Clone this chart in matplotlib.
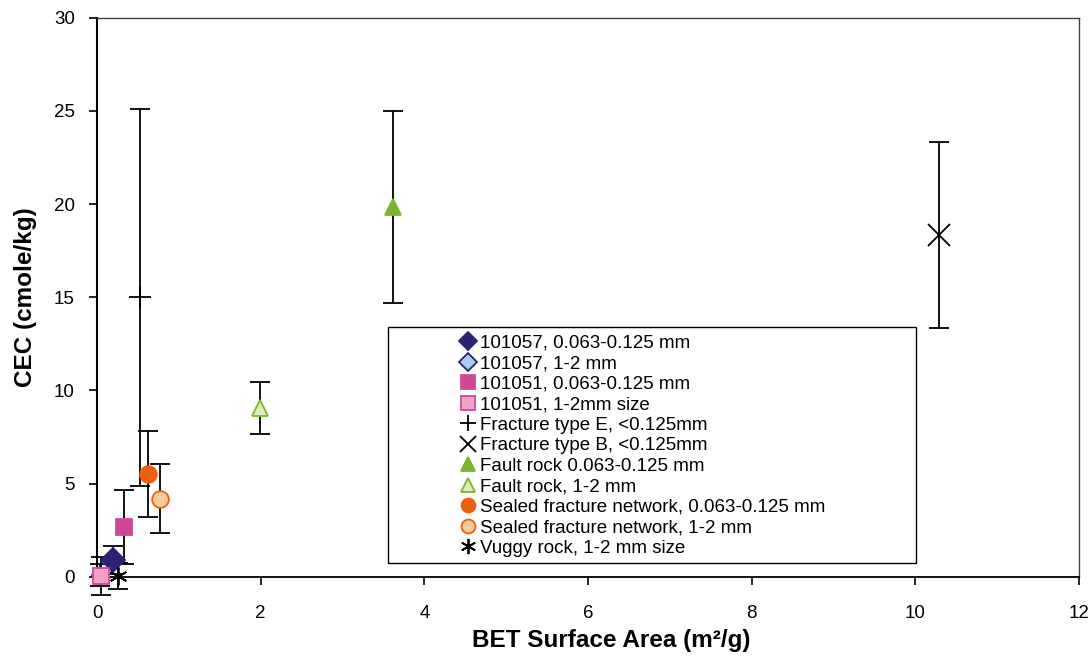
import matplotlib.pyplot as plt
from matplotlib.patches import Rectangle

plt.rcParams['font.family'] = ['Liberation Sans', 'DejaVu Sans']

# series: label, x, y, error
labels = [
    "101057, 0.063-0.125 mm",
    "101057, 1-2 mm",
    "101051, 0.063-0.125 mm",
    "101051, 1-2mm size",
    "Fracture type E, <0.125mm",
    "Fracture type B, <0.125mm",
    "Fault rock 0.063-0.125 mm",
    "Fault rock, 1-2 mm",
    "Sealed fracture network, 0.063-0.125 mm",
    "Sealed fracture network, 1-2 mm",
    "Vuggy rock, 1-2 mm size",
]
bet = [0.2, 0.04, 0.33, 0.05, 0.53, 10.29, 3.62, 1.99, 0.62, 0.77, 0.26]
cec = [0.9, 0.1, 2.68, 0.05, 15.0, 18.35, 19.85, 9.07, 5.5, 4.2, 0.05]
err = [0.75, 0.6, 2.0, 1.0, 10.1, 5.0, 5.15, 1.4, 2.3, 1.85, 0.7]

markers = ['D', 'D', 's', 's', '+', 'x', '^', '^', 'o', 'o', (6, 2, 0)]
faces = ['#2B2275', '#A9CDEE', '#CF4898', '#F3A0C8', 'black', 'black',
         '#7AB52C', '#DCEEB8', '#EC600D', '#FACB9C', 'black']
edges = ['#2B2275', '#2B2275', '#CF4898', '#CF4898', 'black', 'black',
         '#7AB52C', '#7AB52C', '#EC600D', '#EC600D', 'black']
sizes = [12, 8, 12, 11, 16, 16, 12, 12, 12, 12, 13]
leg_sizes = [9, 9, 10, 10, 12, 12, 10, 10, 10, 10, 11]

fig = plt.figure(figsize=(10.9, 6.57), dpi=100)
ax = fig.add_axes([0.089, 0.122, 0.901, 0.851])

handles = []
for i in range(len(labels)):
    ax.errorbar(bet[i], cec[i], yerr=err[i], fmt='none', ecolor='black',
                elinewidth=1.3, capsize=7, capthick=1.3, clip_on=False, zorder=2)
    h, = ax.plot(bet[i], cec[i], linestyle='none', marker=markers[i],
                 markersize=sizes[i], markerfacecolor=faces[i],
                 markeredgecolor=edges[i], markeredgewidth=1.3,
                 clip_on=False, zorder=3, label=labels[i])
    handles.append(h)

ax.set_xlim(0, 12)
ax.set_ylim(0, 30)
ax.set_xticks(range(0, 13, 2))
ax.set_yticks(range(0, 31, 5))
ax.spines['top'].set_color('#404040')
ax.spines['right'].set_color('#404040')
ax.spines['top'].set_linewidth(1.0)
ax.spines['right'].set_linewidth(1.0)
ax.spines['left'].set_linewidth(1.5)
ax.spines['bottom'].set_linewidth(1.3)
ax.tick_params(labelsize=13.5, length=6, width=1.2)
ax.tick_params(axis='x', pad=14)
ax.tick_params(axis='y', pad=10)
ax.set_xlabel("BET Surface Area (m\u00b2/g)", fontsize=17.5, fontweight='bold',
              labelpad=5, x=0.524)
ax.set_ylabel("CEC (cmole/kg)", fontsize=17.5, fontweight='bold', labelpad=12)

ax.add_patch(Rectangle((0.296, 0.025), 0.538, 0.422, transform=ax.transAxes,
                       fill=False, edgecolor='black', linewidth=1, zorder=1))
leg = ax.legend(handles=handles, loc='upper left', bbox_to_anchor=(0.362, 0.45),
                frameon=False, fontsize=13.5, handlelength=0.6, handletextpad=0.35,
                labelspacing=0.18, borderpad=0)
for h, s in zip(leg.legend_handles, leg_sizes):
    h.set_markersize(s)

fig.savefig("out.png", dpi=100)
